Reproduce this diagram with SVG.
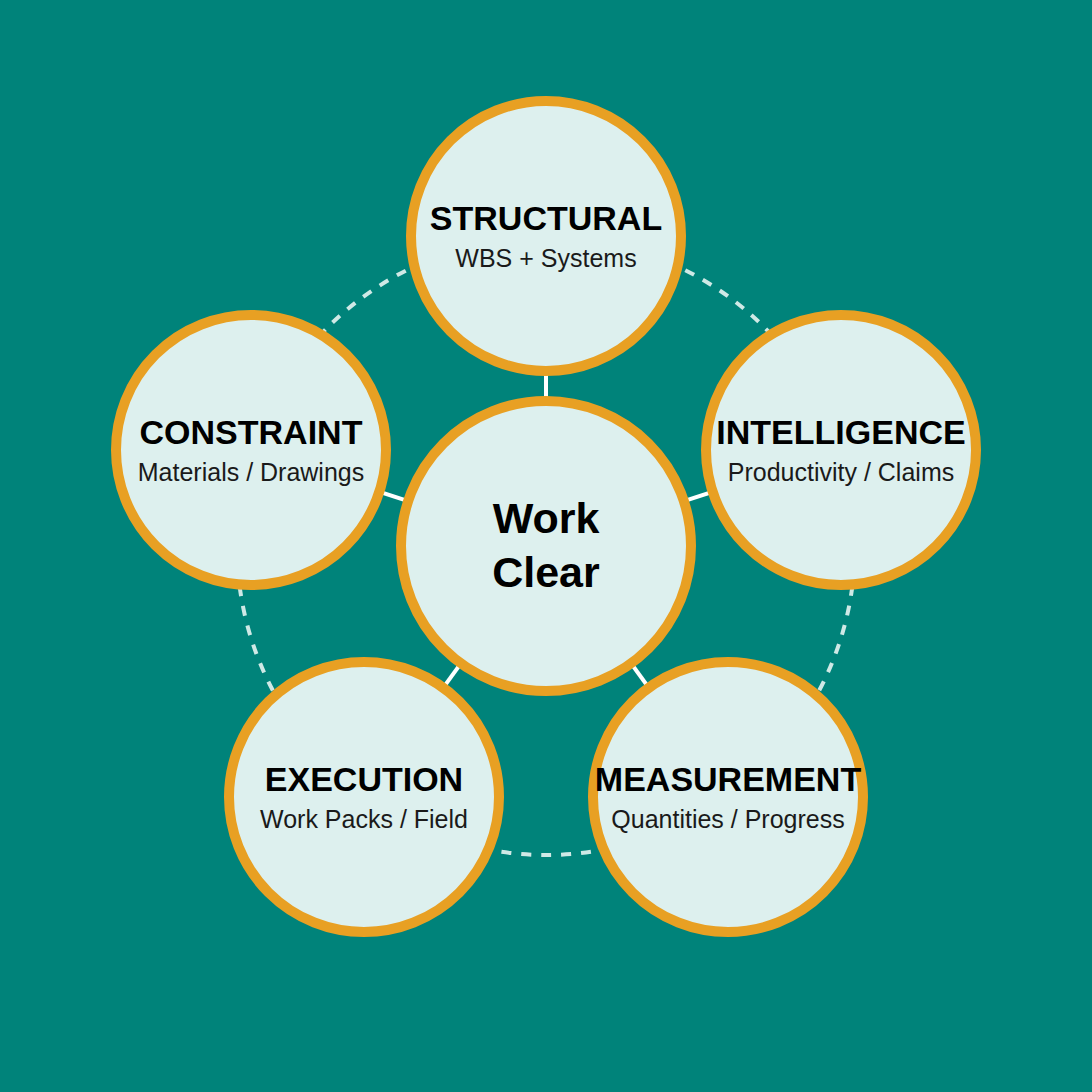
<svg xmlns="http://www.w3.org/2000/svg" width="1092" height="1092" viewBox="0 0 1092 1092">
  <style>
    .ring { fill: #ddf0ee; stroke: #e8a023; stroke-width: 10; }
    .title { font-family: "Liberation Sans", Arial, sans-serif; font-weight: bold; font-size: 34px; fill: #000; text-anchor: middle; }
    .sub { font-family: "Liberation Sans", Arial, sans-serif; font-size: 25px; fill: #1a1a1a; text-anchor: middle; }
    .center { font-family: "Liberation Sans", Arial, sans-serif; font-weight: bold; font-size: 43px; fill: #000; text-anchor: middle; }
    .dash { fill: none; stroke: #cfe9e6; stroke-width: 4; stroke-dasharray: 10 10; }
    .spoke { stroke: #ffffff; stroke-width: 4; }
  </style>
  <rect x="0" y="0" width="1092" height="1092" fill="#00837a"/>
  <g id="connectors">
    <circle class="dash" cx="546" cy="546" r="309"/>
    <line class="spoke" x1="546" y1="546" x2="546" y2="236"/>
    <line class="spoke" x1="546" y1="546" x2="251" y2="450"/>
    <line class="spoke" x1="546" y1="546" x2="841" y2="450"/>
    <line class="spoke" x1="546" y1="546" x2="364" y2="797"/>
    <line class="spoke" x1="546" y1="546" x2="728" y2="797"/>
  </g>
  <g id="structural">
    <circle class="ring" cx="546" cy="236" r="135"/>
    <text class="title" x="546" y="230">STRUCTURAL</text>
    <text class="sub" x="546" y="267">WBS + Systems</text>
  </g>
  <g id="constraint">
    <circle class="ring" cx="251" cy="450" r="135"/>
    <text class="title" x="251" y="444">CONSTRAINT</text>
    <text class="sub" x="251" y="481">Materials / Drawings</text>
  </g>
  <g id="intelligence">
    <circle class="ring" cx="841" cy="450" r="135"/>
    <text class="title" x="841" y="444">INTELLIGENCE</text>
    <text class="sub" x="841" y="481">Productivity / Claims</text>
  </g>
  <g id="execution">
    <circle class="ring" cx="364" cy="797" r="135"/>
    <text class="title" x="364" y="791">EXECUTION</text>
    <text class="sub" x="364" y="828">Work Packs / Field</text>
  </g>
  <g id="measurement">
    <circle class="ring" cx="728" cy="797" r="135"/>
    <text class="title" x="728" y="791">MEASUREMENT</text>
    <text class="sub" x="728" y="828">Quantities / Progress</text>
  </g>
  <g id="workclear">
    <circle class="ring" cx="546" cy="546" r="145"/>
    <text class="center" x="546" y="533">Work</text>
    <text class="center" x="546" y="587">Clear</text>
  </g>
</svg>
